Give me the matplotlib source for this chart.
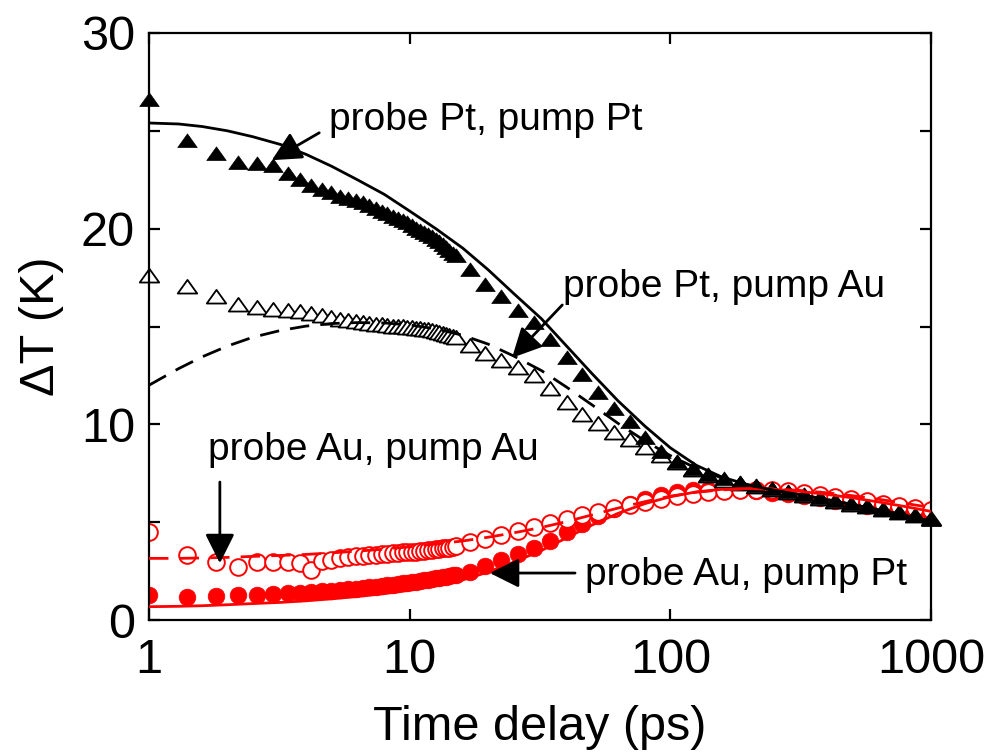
import matplotlib
matplotlib.use("Agg")
import matplotlib.pyplot as plt
from matplotlib.path import Path

plt.rcParams['font.family'] = ['Liberation Sans', 'DejaVu Sans']

# Measured delay times (ps)
t_data = [1.0, 1.4, 1.8, 2.2, 2.6, 3.0, 3.4, 3.8, 4.2, 4.6, 5.0, 5.4, 5.8, 6.2,
          6.6, 7.0, 7.4, 7.8, 8.2, 8.6, 9.0, 9.4, 9.8, 10.2, 10.6, 11.0, 11.4,
          11.8, 12.2, 12.6, 13.0, 13.4, 13.8, 14.2, 14.6, 15.0,
          17, 19.5, 22.5, 26, 30, 34.5, 40, 46, 53, 61, 70, 80, 92, 106, 122,
          140, 161, 185, 213, 245, 282, 325, 374, 430, 495, 570, 656, 755, 869, 1000]

# Temperature rise (K) of each probe/pump combination
probe_pt_pump_pt = [26.6, 24.5, 23.8, 23.35, 23.3, 23.2, 22.8, 22.5, 22.2, 22.0,
                    21.8, 21.6, 21.5, 21.4, 21.3, 21.15, 21.0, 20.85, 20.75, 20.6,
                    20.5, 20.4, 20.3, 20.15, 20.0, 19.9, 19.8, 19.7, 19.55, 19.4,
                    19.3, 19.15, 19.0, 18.85, 18.7, 18.6,
                    17.9, 17.1, 16.5, 15.8, 15.2, 14.3, 13.4, 12.5, 11.6, 10.8,
                    10.1, 9.3, 8.6, 8.1, 7.7, 7.4, 7.2, 7.0, 6.85, 6.7, 6.55, 6.4,
                    6.25, 6.1, 5.95, 5.8, 5.6, 5.45, 5.3, 5.1]

probe_pt_pump_au = [17.6, 17.0, 16.5, 16.1, 15.95, 15.85, 15.8, 15.75, 15.65, 15.55,
                    15.45, 15.35, 15.3, 15.25, 15.2, 15.15, 15.1, 15.1, 15.05, 15.0,
                    15.0, 14.95, 14.9, 14.9, 14.85, 14.85, 14.8, 14.8, 14.75, 14.7,
                    14.65, 14.6, 14.55, 14.5, 14.45, 14.4,
                    14.0, 13.6, 13.25, 12.9, 12.45, 11.8, 11.1, 10.5, 10.0, 9.55,
                    9.2, 8.8, 8.4, 8.0, 7.65, 7.35, 7.1, 6.95, 6.8, 6.65, 6.5, 6.35,
                    6.2, 6.05, 5.9, 5.75, 5.6, 5.45, 5.3, 5.15]

probe_au_pump_au = [4.5, 3.3, 2.96, 2.7, 2.96, 2.96, 2.96, 2.9, 2.55, 3.0,
                    3.07, 3.15, 3.2, 3.25, 3.25, 3.3, 3.3, 3.35, 3.35, 3.4,
                    3.4, 3.45, 3.45, 3.5, 3.5, 3.55, 3.55, 3.6, 3.6, 3.65,
                    3.65, 3.7, 3.7, 3.7, 3.75, 3.8,
                    4.0, 4.15, 4.35, 4.55, 4.75, 4.95, 5.15, 5.35, 5.5, 5.7,
                    5.9, 6.05, 6.2, 6.35, 6.45, 6.55, 6.6, 6.65, 6.65, 6.65, 6.6, 6.5,
                    6.4, 6.3, 6.2, 6.1, 5.95, 5.85, 5.7, 5.6]

probe_au_pump_pt = [1.3, 1.18, 1.23, 1.28, 1.3, 1.33, 1.36, 1.4, 1.43, 1.47,
                    1.5, 1.53, 1.57, 1.6, 1.64, 1.67, 1.7, 1.74, 1.77, 1.8,
                    1.84, 1.87, 1.9, 1.93, 1.96, 2.0, 2.03, 2.06, 2.1, 2.13,
                    2.16, 2.19, 2.22, 2.25, 2.28, 2.31,
                    2.45, 2.75, 3.05, 3.35, 3.7, 4.05, 4.5, 4.9, 5.3, 5.65,
                    5.95, 6.2, 6.4, 6.55, 6.62, 6.65, 6.65, 6.65, 6.6, 6.5, 6.42, 6.33,
                    6.22, 6.1, 5.98, 5.85, 5.72, 5.6, 5.47, 5.35]

# Model curves
t_fit = [1, 1.3, 1.6, 2, 2.5, 3.2, 4, 5, 6.3, 8, 10, 12.6, 16, 20, 25, 32, 40, 50,
         63, 80, 100, 126, 158, 200, 251, 316, 398, 501, 631, 794, 1000]
fit_pt_pt = [25.4, 25.35, 25.22, 25.0, 24.7, 24.3, 23.8, 23.2, 22.5, 21.75, 20.9,
             20.0, 19.0, 17.9, 16.7, 15.4, 14.0, 12.6, 11.2, 9.9, 8.8, 7.9, 7.3,
             6.9, 6.62, 6.4, 6.16, 5.9, 5.63, 5.35, 5.05]
fit_pt_au = [12.0, 12.85, 13.45, 14.0, 14.45, 14.8, 15.02, 15.15, 15.2, 15.18, 15.08,
             14.88, 14.55, 14.1, 13.5, 12.75, 11.9, 11.0, 10.05, 9.15, 8.4, 7.75, 7.25,
             6.9, 6.62, 6.4, 6.16, 5.9, 5.63, 5.35, 5.05]
fit_au_pt = [0.68, 0.7, 0.73, 0.78, 0.84, 0.9, 0.98, 1.08, 1.2, 1.35, 1.52, 1.75,
             2.05, 2.45, 2.95, 3.55, 4.2, 4.85, 5.45, 5.95, 6.3, 6.55, 6.68, 6.72, 6.68,
             6.57, 6.42, 6.24, 6.03, 5.8, 5.55]
fit_au_au = [3.15, 3.15, 3.17, 3.2, 3.25, 3.3, 3.35, 3.43, 3.52, 3.62, 3.74, 3.88,
             4.04, 4.23, 4.45, 4.73, 5.03, 5.37, 5.72, 6.05, 6.33, 6.53, 6.65, 6.71,
             6.7, 6.62, 6.5, 6.35, 6.17, 5.96, 5.75]

x_ticks = [1, 10, 100, 1000]
x_ticklabels = ['1', '10', '100', '1000']
y_ticks = [0, 10, 20, 30]

fig = plt.figure(figsize=(10.02, 7.54), dpi=100)
ax = fig.add_axes([149 / 1002, 1 - 620 / 754, 782 / 1002, 587 / 754])

RED = '#ff0000'
# slightly flattened triangle
tri = Path([(-1.0, -0.62), (1.0, -0.62), (0.0, 0.78), (-1.0, -0.62)],
           [Path.MOVETO, Path.LINETO, Path.LINETO, Path.CLOSEPOLY])
ms_tri = 14
ms_circ = 12

ax.plot(t_data, probe_au_pump_pt, linestyle='none', marker='o', ms=ms_circ,
        mfc=RED, mec=RED, mew=0.5, zorder=2)
ax.plot(t_data, probe_au_pump_au, linestyle='none', marker='o', ms=ms_circ,
        mfc='white', mec=RED, mew=1.4, zorder=2)
ax.plot(t_data, probe_pt_pump_au, linestyle='none', marker=tri, ms=ms_tri,
        mfc='white', mec='black', mew=1.3, zorder=2, clip_on=False)
ax.plot(t_data, probe_pt_pump_pt, linestyle='none', marker=tri, ms=ms_tri,
        mfc='black', mec='black', mew=0.5, zorder=2, clip_on=False)

ax.plot(t_fit, fit_au_pt, color=RED, lw=2.0, zorder=3)
ax.plot(t_fit, fit_au_au, color=RED, lw=2.0, dashes=(7, 4), zorder=3)
ax.plot(t_fit, fit_pt_pt, color='black', lw=2.0, zorder=3)
ax.plot(t_fit, fit_pt_au, color='black', lw=2.0, dashes=(7, 4), zorder=3)

ax.set_xscale('log')
ax.set_xlim(1, 1000)
ax.set_ylim(0, 30)
ax.set_xticks(x_ticks)
ax.set_xticklabels(x_ticklabels)
ax.xaxis.set_minor_locator(matplotlib.ticker.NullLocator())
ax.set_yticks(y_ticks)
ax.set_yticks([5, 15, 25], minor=True)

ax.tick_params(which='both', direction='in', top=True, right=True,
               labelsize=35, width=1.6, length=8)
ax.tick_params(axis='x', pad=13)
ax.tick_params(axis='y', pad=10)
for s in ax.spines.values():
    s.set_linewidth(1.6)

ax.set_xlabel('Time delay (ps)', fontsize=35, labelpad=16)
ax.set_ylabel('\u0394T (K)', fontsize=35, labelpad=12)

arrow = dict(arrowstyle='-|>,head_length=1.0,head_width=0.5', color='black',
             lw=2.0, shrinkA=0, shrinkB=0, mutation_scale=18)
fs = 28
ax.text(4.9, 25.55, 'probe Pt, pump Pt', fontsize=fs, va='center', ha='left', zorder=5)
ax.annotate('', xy=(2.96, 23.5), xytext=(4.5, 24.9), arrowprops=arrow, zorder=5)
ax.text(38.7, 17.0, 'probe Pt, pump Au', fontsize=fs, va='center', ha='left', zorder=5)
ax.annotate('', xy=(24.7, 13.4), xytext=(38.5, 16.1), arrowprops=arrow, zorder=5)
ax.text(1.685, 8.7, 'probe Au, pump Au', fontsize=fs, va='center', ha='left', zorder=5)
ax.annotate('', xy=(1.87, 2.9), xytext=(1.87, 7.05), arrowprops=arrow, zorder=5)
ax.text(47.1, 2.3, 'probe Au, pump Pt', fontsize=fs, va='center', ha='left', zorder=5)
ax.annotate('', xy=(20.3, 2.4), xytext=(43.1, 2.4), arrowprops=arrow, zorder=5)

fig.savefig('out.png', dpi=100)
